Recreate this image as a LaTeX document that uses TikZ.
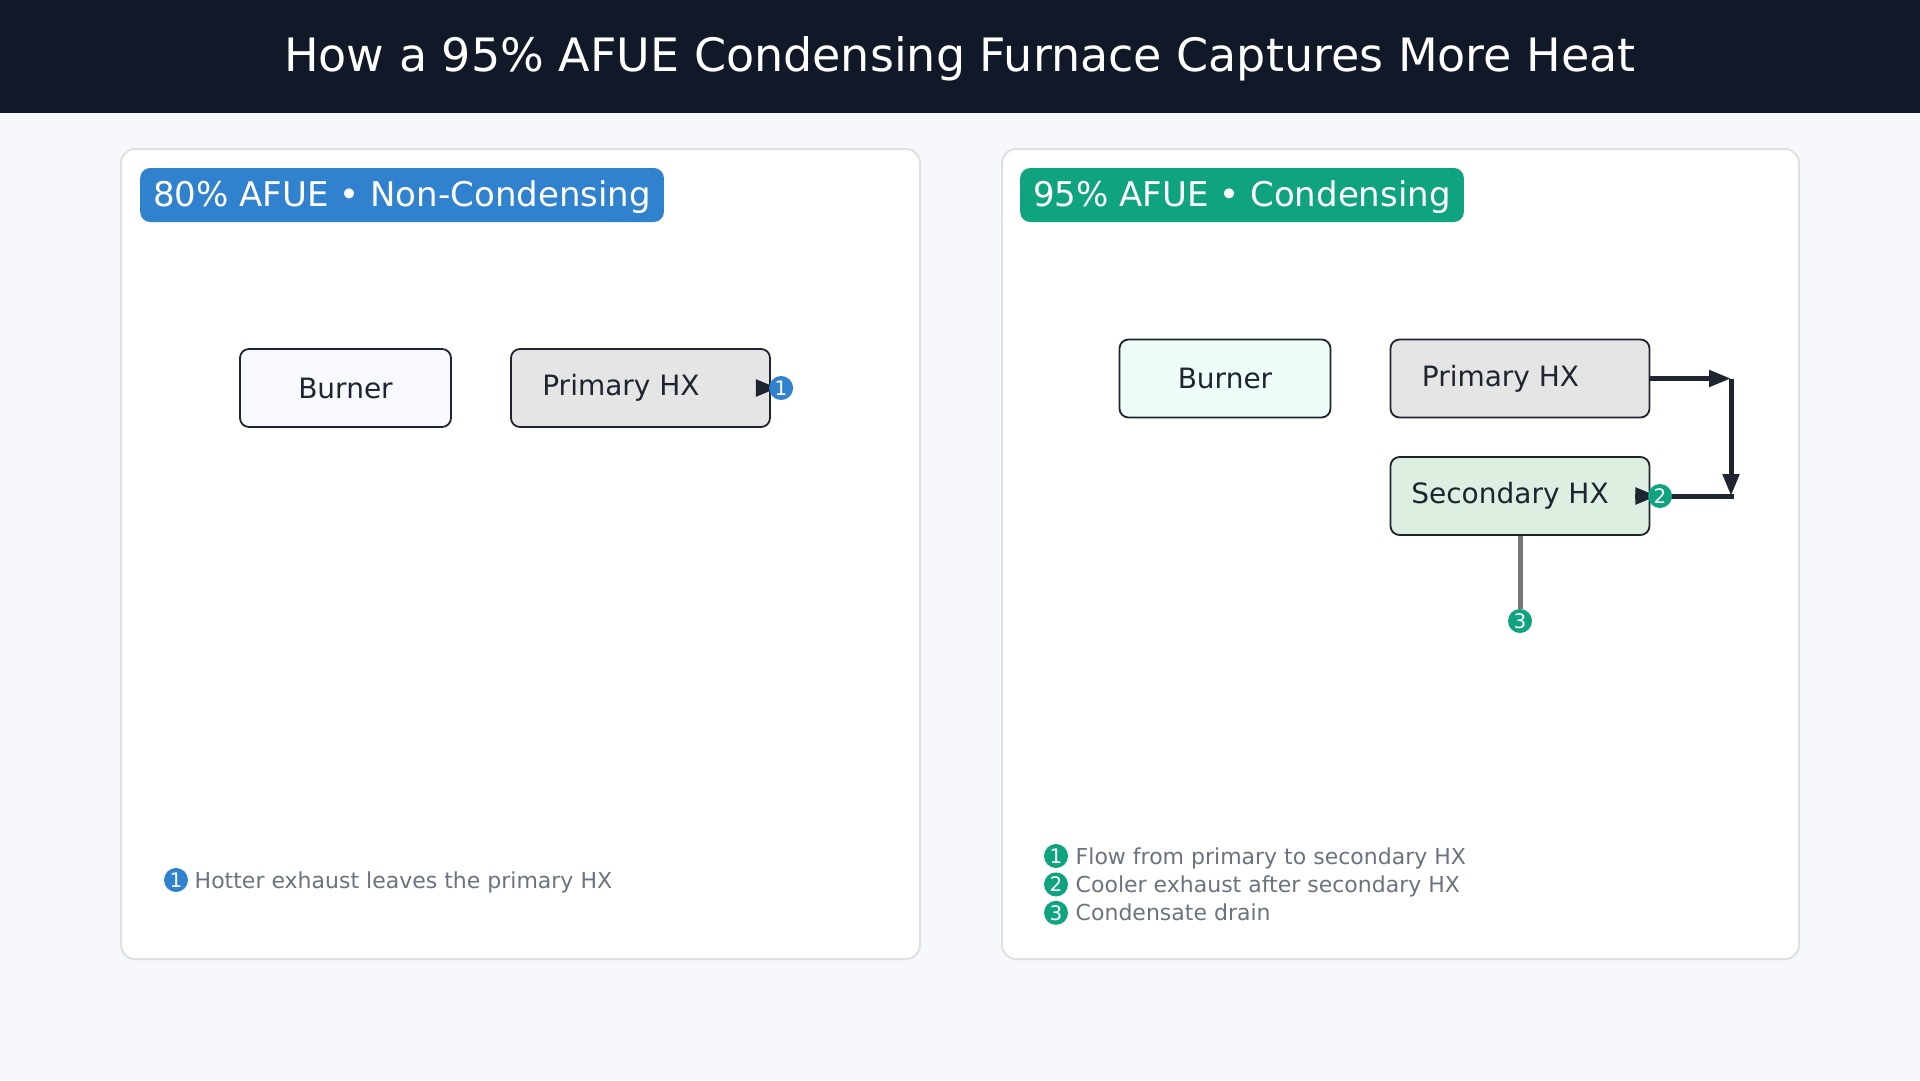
\documentclass[tikz,border=0pt]{standalone}
\usepackage{fontspec}
\setmainfont{DejaVu Sans}
\usepackage{xcolor}
\usetikzlibrary{arrows.meta, positioning}
\definecolor{pagebg}{HTML}{F6F8FB}
\definecolor{navy}{HTML}{111827}
\definecolor{ink}{HTML}{1E2430}
\definecolor{blueTag}{HTML}{3182CE}
\definecolor{tealTag}{HTML}{10A37F}
\definecolor{panelLine}{HTML}{DDE1E6}
\definecolor{noteGray}{HTML}{6B7280}
\definecolor{hxGray}{HTML}{E5E5E5}
\definecolor{burnerBlue}{HTML}{F7F9FD}
\definecolor{burnerMint}{HTML}{EFFDF8}
\definecolor{secGreen}{HTML}{DCEFE0}
\definecolor{drainGray}{HTML}{777777}
\newcommand{\fs}[1]{\fontsize{#1}{#1}\selectfont}
\newcommand{\padR}[1]{\rule{#1}{0pt}}

\begin{document}
\begin{tikzpicture}[x=1pt, y=-1pt,
    panel/.style={draw=panelLine, line width=2pt, fill=white, rounded corners=14pt},
    heading/.style={anchor=west, text=white, rounded corners=10pt, inner xsep=13pt, minimum height=54pt, text height=28pt, text depth=6pt, font=\fs{34}},
    unit/.style={draw=ink, line width=1.8pt, rounded corners=9pt, minimum height=78pt, text=ink, font=\fs{28}},
    num/.style={circle, inner sep=0pt, minimum size=24pt, text=white, font=\fs{20}},
    note/.style={anchor=west, text=noteGray, text height=19pt, text depth=3pt, font=\fs{22}},
    flow/.style={draw=ink, line width=5pt},
    tip/.style={-{Triangle[length=22pt, width=16pt]}}]
    \useasboundingbox (0,0) rectangle (1920,1080);
    \fill[pagebg] (0,0) rectangle (1920,1080);
    \fill[navy] (0,0) rectangle (1920,113);
    \node[text=white, font=\fs{46}] (title) at (960,58.5) {How a 95\% AFUE Condensing Furnace Captures More Heat};

    \draw[panel] (121,149) rectangle (920,959);
    \draw[panel] (1002,149) rectangle (1799,959);

    \node[heading, fill=blueTag] (headA) at (140,195) {80\% AFUE • Non-Condensing};
    \node[heading, fill=tealTag] (headB) at (1020,195) {95\% AFUE • Condensing};

    \node[unit, fill=burnerBlue, minimum width=211pt] (burnerA) at (345.5,388) {Burner};
    \node[unit, fill=hxGray, minimum width=259pt] (primaryA) at (640.5,388) {Primary HX\padR{39pt}};
    \draw[flow, tip] ([xshift=-15pt]primaryA.east) -- ([xshift=7pt]primaryA.east);
    \node[num, fill=blueTag, right=-2pt of primaryA] (tagA) {1};

    \node[unit, fill=burnerMint, minimum width=211pt] (burnerB) at (1225,378.5) {Burner};
    \node[unit, fill=hxGray, minimum width=259pt] (primaryB) at (1520,378.5) {Primary HX\padR{39pt}};
    \node[unit, fill=secGreen, minimum width=259pt] (secondaryB) at (1520,496) {Secondary HX\padR{20pt}};
    \coordinate (bendA) at (1731,378.5);
    \coordinate (bendB) at (1731,496);
    \draw[flow, tip] (primaryB.east) -- (bendA);
    \draw[flow, tip] (bendA) -- (bendB);
    \draw[flow, line cap=rect] (bendB) -- (secondaryB.east);
    \draw[flow, tip] ([xshift=-15pt]secondaryB.east) -- ([xshift=7pt]secondaryB.east);
    \node[num, fill=tealTag] (tagB) at (1660,496) {2};
    \node[num, fill=tealTag] (tagC) at (1520,621) {3};
    \draw[drainGray, line width=5pt] (secondaryB.south) -- (tagC.north);

    \node[num, fill=blueTag] (keyA1) at (176,880) {1};
    \node[note, right=3pt of keyA1] (noteA1) {Hotter exhaust leaves the primary HX};

    \node[num, fill=tealTag] (keyB1) at (1056,856) {1};
    \node[num, fill=tealTag, below=4pt of keyB1] (keyB2) {2};
    \node[num, fill=tealTag, below=4pt of keyB2] (keyB3) {3};
    \node[note, right=4pt of keyB1] (noteB1) {Flow from primary to secondary HX};
    \node[note, right=4pt of keyB2] (noteB2) {Cooler exhaust after secondary HX};
    \node[note, right=4pt of keyB3] (noteB3) {Condensate drain};
\end{tikzpicture}
\end{document}
